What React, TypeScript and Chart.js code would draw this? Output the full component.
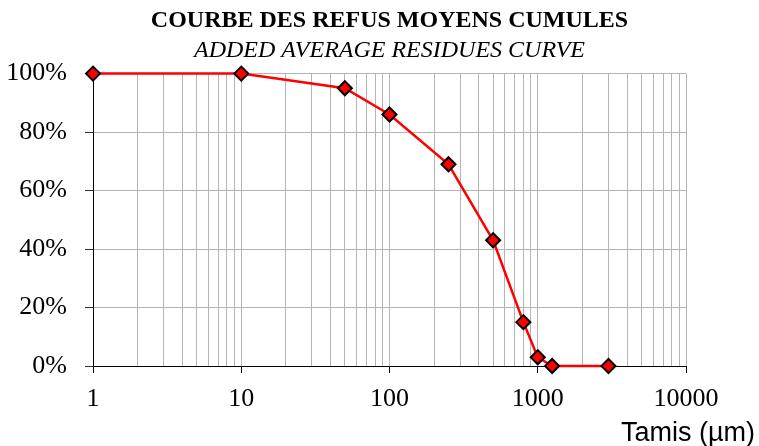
import React, { useEffect, useRef } from "react";
import { Chart, registerables } from "chart.js";

Chart.register(...registerables);

// ---- Data ----
const sieveSizes = [1, 10, 50, 100, 250, 500, 800, 1000, 1250, 3000];
const cumulativeResidue = [100, 100, 95, 86, 69, 43, 15, 3, 0, 0];
const xDecades = [1, 10, 100, 1000, 10000];
const yMin = 0;
const yMax = 100;
const yStep = 20;
const titleText = "COURBE DES REFUS MOYENS CUMULES";
const subtitleText = "ADDED AVERAGE RESIDUES CURVE";
const xAxisTitle = "Tamis (µm)";

const SERIF = "'Liberation Serif', 'Times New Roman', serif";
const SANS = "'Liberation Sans', Arial, sans-serif";

function buildLogTicks(): number[] {
  const out: number[] = [];
  for (let i = 0; i < xDecades.length - 1; i++) {
    for (let m = 1; m <= 9; m++) out.push(xDecades[i] * m);
  }
  out.push(xDecades[xDecades.length - 1]);
  return out;
}

const isDecade = (v: number) => xDecades.some((d) => Math.abs(d - v) < 1e-9);

const axisTitlePlugin = {
  id: "axisTitleRight",
  afterDraw(chart: any) {
    const ctx = chart.ctx;
    ctx.save();
    ctx.font = `27px ${SANS}`;
    ctx.fillStyle = "#000";
    ctx.textAlign = "right";
    ctx.textBaseline = "alphabetic";
    ctx.fillText(xAxisTitle, chart.width - 4, chart.height - 5);
    ctx.restore();
  },
};

export default function App() {
  const canvasRef = useRef<HTMLCanvasElement | null>(null);

  useEffect(() => {
    if (!canvasRef.current) return;
    const points = sieveSizes.map((x, i) => ({ x, y: cumulativeResidue[i] }));
    const chart = new Chart(canvasRef.current, {
      type: "scatter",
      data: {
        datasets: [
          {
            data: points,
            showLine: true,
            borderColor: "#ff0000",
            borderWidth: 2.5,
            tension: 0,
            pointStyle: "rectRot",
            pointRadius: 7,
            pointHoverRadius: 7,
            pointBackgroundColor: "#ff0000",
            pointBorderColor: "#000000",
            pointBorderWidth: 2,
            clip: false,
          } as any,
        ],
      },
      plugins: [axisTitlePlugin],
      options: {
        responsive: false,
        animation: false,
        devicePixelRatio: 1,
        layout: { padding: { left: 0, right: 73, top: 0, bottom: 0 } },
        plugins: {
          legend: { display: false },
          tooltip: { enabled: false },
          title: {
            display: true,
            text: titleText,
            fullSize: false,
            color: "#000",
            font: { family: SERIF, size: 24, weight: "bold", lineHeight: 1.2 },
            padding: { top: 6, bottom: 0 },
          },
          subtitle: {
            display: true,
            text: subtitleText,
            fullSize: false,
            color: "#000",
            font: { family: SERIF, size: 24, style: "italic", lineHeight: 1.2 },
            padding: { top: 1, bottom: 9 },
          },
        },
        scales: {
          x: {
            type: "logarithmic",
            min: xDecades[0],
            max: xDecades[xDecades.length - 1],
            afterBuildTicks: (scale: any) => {
              scale.ticks = buildLogTicks().map((v) => ({ value: v }));
            },
            afterFit: (scale: any) => {
              scale.height = 80;
            },
            ticks: {
              autoSkip: false,
              maxRotation: 0,
              minRotation: 0,
              padding: 11,
              color: "#000",
              font: { family: SERIF, size: 26 },
              callback: (v: any) => (isDecade(Number(v)) ? String(Number(v)) : ""),
            },
            grid: {
              color: "#b4b4b4",
              lineWidth: 1,
              drawOnChartArea: true,
              drawTicks: true,
              tickLength: 7,
              tickColor: (ctx: any) =>
                ctx.tick && isDecade(ctx.tick.value) ? "#000" : "rgba(0,0,0,0)",
            },
            border: { display: true, color: "#000", width: 1 },
          },
          y: {
            type: "linear",
            min: yMin,
            max: yMax,
            afterFit: (scale: any) => {
              scale.width = 93;
            },
            ticks: {
              stepSize: yStep,
              padding: 18,
              color: "#000",
              font: { family: SERIF, size: 26 },
              callback: (v: any) => `${v}%`,
            },
            grid: {
              color: "#b4b4b4",
              lineWidth: 1,
              tickLength: 8,
              tickColor: "#333",
            },
            border: { display: true, color: "#000", width: 1 },
          },
        },
      } as any,
    });
    return () => chart.destroy();
  }, []);

  return (
    <div style={{ position: "fixed", left: 0, top: 0, width: 759, height: 446, background: "#fff" }}>
      <canvas ref={canvasRef} width={759} height={446} style={{ display: "block", width: 759, height: 446 }} />
    </div>
  );
}
